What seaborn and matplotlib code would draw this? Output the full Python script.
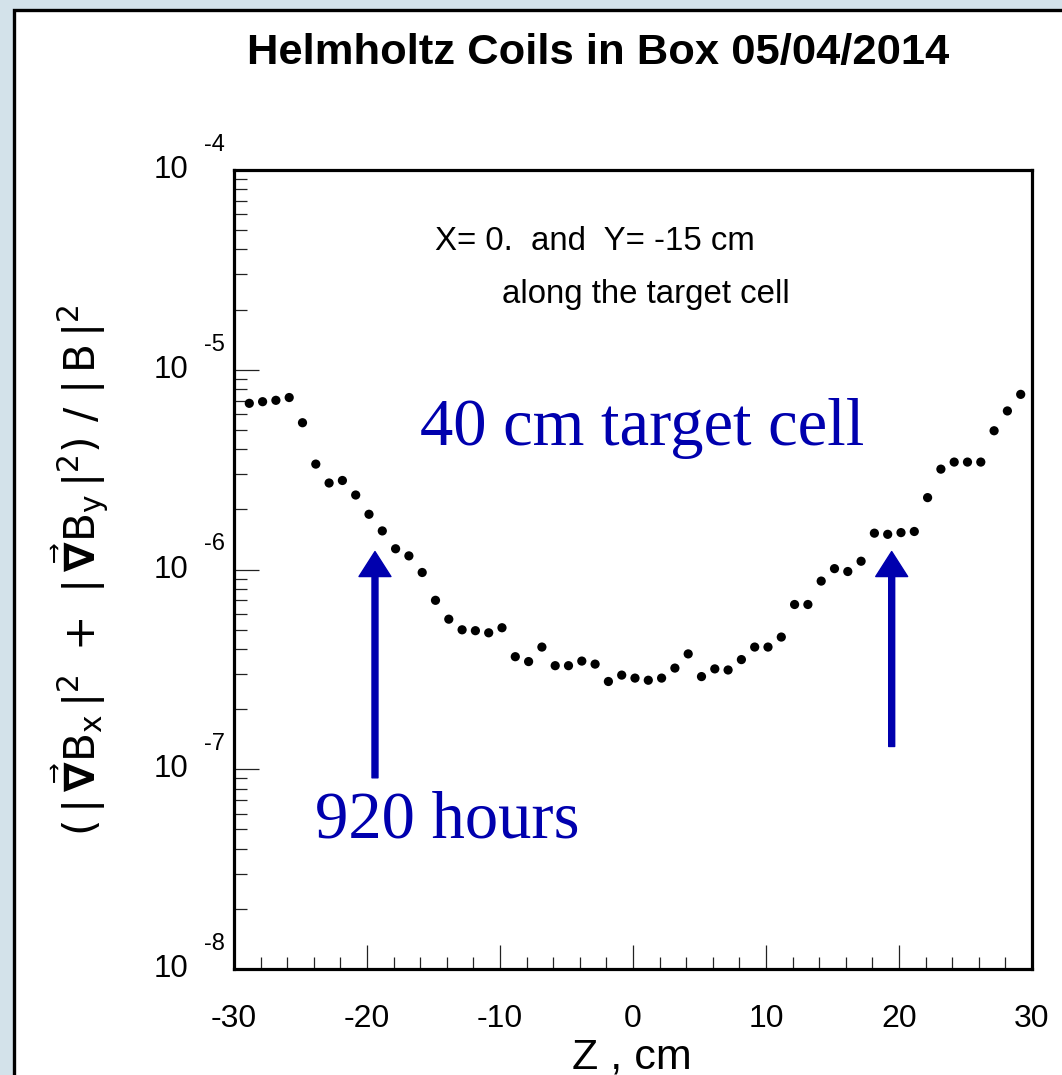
import numpy as np
import pandas as pd
import matplotlib
matplotlib.use("Agg")
import matplotlib.pyplot as plt
import matplotlib.transforms as mtransforms
from matplotlib.patches import Rectangle
from matplotlib.ticker import LogLocator, NullFormatter, MultipleLocator
import seaborn as sns

# ---------------- data ----------------
z_cm = [-29, -28, -27, -26, -25, -24, -23, -22, -21, -20,
        -19, -18, -17, -16, -15, -14, -13, -12, -11, -10,
        -9, -8, -7, -6, -5, -4, -3, -2, -1, 0,
        1, 2, 3, 4, 5, 6, 7, 8, 9, 10,
        11, 12, 13, 14, 15, 16, 17, 18, 19, 20,
        21, 22, 23, 24, 25, 26, 27, 28, 29]
# (|grad Bx|^2 + |grad By|^2)/|B|^2, in units of 1e-6
ratio_e6 = [6.79, 6.92, 7.03, 7.26, 5.43, 3.37, 2.71, 2.79, 2.36, 1.89,
            1.56, 1.27, 1.17, 0.966, 0.701, 0.564, 0.499, 0.494, 0.482, 0.511,
            0.366, 0.346, 0.409, 0.330, 0.330, 0.348, 0.336, 0.275, 0.296, 0.286,
            0.279, 0.286, 0.321, 0.378, 0.291, 0.318, 0.314, 0.354, 0.409, 0.409,
            0.459, 0.668, 0.668, 0.875, 1.01, 0.977, 1.10, 1.52, 1.50, 1.53,
            1.55, 2.29, 3.18, 3.45, 3.45, 3.45, 4.95, 6.22, 7.53]
z_offset = 0.15
arrow_z = [-19.4, 19.45]
arrow_bottom = [9.06e-8, 1.30e-7]
arrow_top = [1.23e-6, 1.23e-6]

x_ticks = [-30, -20, -10, 0, 10, 20, 30]
y_decades = [-8, -7, -6, -5, -4]

title = "Helmholtz Coils in Box 05/04/2014"
note1 = "X= 0.  and  Y= -15 cm"
note2 = "along the target cell"
big1 = "40 cm target cell"
big2 = "920 hours"
xlabel = "Z , cm"
ylabel = (r"$(\,|\,\vec{\mathbf{\nabla}}\mathrm{B}_{\mathrm{x}}\,|^{2}\ +\ "
          r"|\,\vec{\mathbf{\nabla}}\mathrm{B}_{\mathrm{y}}\,|^{2})\ /\ |\,\mathrm{B}\,|^{2}$")

df = pd.DataFrame({"z": np.array(z_cm) + z_offset,
                   "ratio": np.array(ratio_e6) * 1e-6})

# ---------------- style ----------------
sns.set_style("white")
plt.rcParams["font.family"] = ["Liberation Sans", "DejaVu Sans"]
plt.rcParams["text.color"] = "black"
plt.rcParams["axes.labelcolor"] = "black"
plt.rcParams["xtick.color"] = "black"
plt.rcParams["ytick.color"] = "black"
plt.rcParams["mathtext.fontset"] = "custom"
plt.rcParams["mathtext.rm"] = "Liberation Sans"
plt.rcParams["mathtext.it"] = "Liberation Sans"
plt.rcParams["mathtext.bf"] = "Liberation Sans:bold"

W, H = 1062, 1075
BLUE = "#0000AE"
fig = plt.figure(figsize=(W / 100, H / 100), dpi=100)
fig.patch.set_facecolor("#d3e2ea")

# white page with black border (left & top visible)
page = Rectangle((14 / W, -0.1), 1.2, (H - 10) / H + 0.1, transform=fig.transFigure,
                 facecolor="white", edgecolor="black", linewidth=2.4, zorder=-5)
fig.add_artist(page)

ax = fig.add_axes([234 / W, (H - 969) / H, (1032 - 234) / W, (969 - 170) / H])
ax.set_facecolor("white")

sns.scatterplot(data=df, x="z", y="ratio", ax=ax, color="black", s=44,
                edgecolor="none", linewidth=0, legend=False, zorder=3)

ax.set_yscale("log")
ax.set_xlim(-30, 30)
ax.set_ylim(1e-8, 1e-4)
ax.set_xlabel("")
ax.set_ylabel("")

for s in ax.spines.values():
    s.set_linewidth(2.3)
    s.set_color("black")

ax.xaxis.set_minor_locator(MultipleLocator(2))
ax.set_xticks(x_ticks)
ax.set_xticklabels([str(t) for t in x_ticks], fontsize=23, color="black")
ax.yaxis.set_major_locator(LogLocator(base=10, numticks=10))
ax.yaxis.set_minor_locator(LogLocator(base=10, subs=np.arange(2, 10), numticks=100))
ax.yaxis.set_major_formatter(NullFormatter())
ax.yaxis.set_minor_formatter(NullFormatter())

ax.tick_params(axis="both", which="both", direction="in", bottom=True, left=True,
               top=False, right=False, color="#222222", width=0.9)
ax.tick_params(axis="x", which="major", length=17, pad=25)
ax.tick_params(axis="x", which="minor", length=8.6)
ax.tick_params(axis="y", which="major", length=18)
ax.tick_params(axis="y", which="minor", length=9)

# y tick labels in ROOT style: "10" with exponent up-right
tr_base = mtransforms.blended_transform_factory(fig.transFigure, ax.transData)
for d in y_decades:
    ax.text(188 / W, 10.0 ** d, "10", transform=tr_base, ha="right", va="center",
            fontsize=22.5, clip_on=False)
    ax.text(204 / W, 10.0 ** d, str(d),
            transform=tr_base + mtransforms.ScaledTranslation(0, 19 / 100, fig.dpi_scale_trans),
            ha="left", va="baseline", fontsize=17, clip_on=False)

# arrows
for xz, yb, yt in zip(arrow_z, arrow_bottom, arrow_top):
    ax.annotate("", xy=(xz, yt), xytext=(xz, yb),
                arrowprops=dict(width=4.3, headwidth=23, headlength=18,
                                color=BLUE, shrink=0), zorder=4)

# texts
fig.text(598 / W, 1 - 64 / H, title, ha="center", va="baseline",
         fontsize=31.3, fontweight="bold")
fig.text(435 / W, 1 - 250 / H, note1, ha="left", va="baseline", fontsize=23.8)
fig.text(502 / W, 1 - 303 / H, note2, ha="left", va="baseline", fontsize=23.8)
fig.text(420 / W, 1 - 445 / H, big1, ha="left", va="baseline", fontsize=48,
         color=BLUE, family=["Liberation Serif", "DejaVu Serif"])
fig.text(315 / W, 1 - 838 / H, big2, ha="left", va="baseline", fontsize=48,
         color=BLUE, family=["Liberation Serif", "DejaVu Serif"])
fig.text(632 / W, 1 - 1068 / H, xlabel, ha="center", va="baseline", fontsize=31)
fig.text(80 / W, 1 - 570 / H, ylabel, ha="center", va="center", rotation=90,
         fontsize=30.5, math_fontfamily="dejavusans")

fig.savefig("out.png", dpi=100, facecolor=fig.get_facecolor())
